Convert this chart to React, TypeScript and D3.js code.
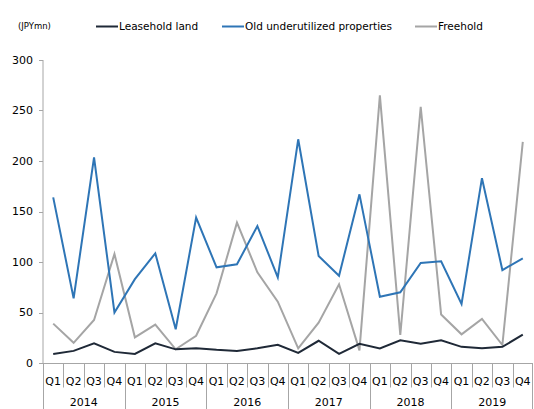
import React, { useEffect, useRef } from 'react';
import * as d3 from 'd3';

const years = ['2014', '2015', '2016', '2017', '2018', '2019'];
const quarters = ['Q1', 'Q2', 'Q3', 'Q4'];
const yTicks = [0, 50, 100, 150, 200, 250, 300];

const leasehold = [9, 12, 19.5, 11, 9, 19.5, 13.5, 14.5, 13, 12, 14.5, 18, 10, 22, 9, 19, 14.5, 22.4, 19, 22.4, 16, 14.5, 16, 28];
const oldUnderutilized = [164, 64, 203.6, 50, 83, 108.6, 33.4, 144, 94.7, 97.7, 135.6, 84.8, 221.5, 106, 86.4, 167, 65.6, 70, 99, 100.7, 58.4, 183, 92, 103.7];
const freehold = [39, 20, 42.6, 108, 25.4, 38, 13.6, 27, 69, 139, 89.8, 60.7, 14.5, 40, 78, 12.5, 265, 27.7, 253.7, 48, 28.4, 43.6, 17.8, 219];

const seriesList = [
  { name: 'Leasehold land', values: leasehold, color: '#1f2937', legendX: 96 },
  { name: 'Old underutilized properties', values: oldUnderutilized, color: '#2e75b6', legendX: 222 },
  { name: 'Freehold', values: freehold, color: '#a5a5a5', legendX: 415 },
];

const FONT = '"DejaVu Sans", Verdana, sans-serif';

const App: React.FC = () => {
  const svgRef = useRef<SVGSVGElement>(null);

  useEffect(() => {
    if (!svgRef.current) return;
    const width = 534;
    const height = 409;
    const margin = { top: 60, right: 1, bottom: 46, left: 43 };

    const svg = d3.select(svgRef.current);
    svg.selectAll('*').remove();

    const keys = years.flatMap(y => quarters.map(q => `${y}-${q}`));
    const x = d3.scaleBand<string>().domain(keys).range([margin.left, width - margin.right]);
    const y = d3.scaleLinear().domain([0, 300]).range([height - margin.bottom, margin.top]);
    const axisColor = '#a6a6a6';

    // y axis
    svg.append('line')
      .attr('x1', margin.left).attr('x2', margin.left)
      .attr('y1', y(300)).attr('y2', y(0))
      .attr('stroke', axisColor).attr('stroke-width', 1);
    yTicks.forEach(t => {
      svg.append('line')
        .attr('x1', margin.left - 4).attr('x2', margin.left)
        .attr('y1', Math.round(y(t)) + 0.5).attr('y2', Math.round(y(t)) + 0.5)
        .attr('stroke', axisColor);
      svg.append('text')
        .attr('x', 33).attr('y', y(t)).attr('dy', '0.35em')
        .attr('text-anchor', 'end')
        .style('font-family', FONT).style('font-size', '11px').attr('fill', '#000')
        .text(t);
    });

    // x axis
    const y0 = Math.round(y(0)) + 0.5;
    svg.append('line')
      .attr('x1', margin.left).attr('x2', width - margin.right)
      .attr('y1', y0).attr('y2', y0)
      .attr('stroke', axisColor);
    keys.forEach((k, i) => {
      const bx = x(k)!;
      const isYear = i % 4 === 0;
      svg.append('line')
        .attr('x1', Math.round(bx) + 0.5).attr('x2', Math.round(bx) + 0.5)
        .attr('y1', y0).attr('y2', isYear ? height : y0 + 24)
        .attr('stroke', axisColor);
      svg.append('text')
        .attr('x', bx + x.bandwidth() / 2).attr('y', y0 + 21)
        .attr('text-anchor', 'middle')
        .style('font-family', FONT).style('font-size', '11px')
        .text(k.split('-')[1]);
    });
    svg.append('line')
      .attr('x1', width - margin.right - 0.5).attr('x2', width - margin.right - 0.5)
      .attr('y1', y0).attr('y2', height)
      .attr('stroke', axisColor);
    years.forEach(yr => {
      const start = x(`${yr}-Q1`)!;
      svg.append('text')
        .attr('x', start + x.bandwidth() * 2).attr('y', y0 + 42)
        .attr('text-anchor', 'middle')
        .style('font-family', FONT).style('font-size', '11px')
        .text(yr);
    });

    // lines
    const line = d3.line<number>()
      .x((_, i) => x(keys[i])! + x.bandwidth() / 2)
      .y(d => y(d));
    [seriesList[2], seriesList[1], seriesList[0]].forEach(s => {
      svg.append('path')
        .datum(s.values)
        .attr('fill', 'none')
        .attr('stroke', s.color)
        .attr('stroke-width', 2)
        .attr('stroke-linejoin', 'miter')
        .attr('d', line);
    });

    // legend
    svg.append('text')
      .attr('x', 18).attr('y', 29)
      .style('font-family', FONT).style('font-size', '8.5px')
      .text('(JPYmn)');
    seriesList.forEach(s => {
      svg.append('line')
        .attr('x1', s.legendX).attr('x2', s.legendX + 22)
        .attr('y1', 26.5).attr('y2', 26.5)
        .attr('stroke', s.color).attr('stroke-width', 2);
      svg.append('text')
        .attr('x', s.legendX + 23).attr('y', 26).attr('dy', '0.35em')
        .style('font-family', FONT).style('font-size', '10.5px')
        .text(s.name);
    });
  }, []);

  return (
    <div style={{ position: 'absolute', left: 0, top: 0, background: '#fff' }}>
      <svg ref={svgRef} width={534} height={409} style={{ display: 'block' }}></svg>
    </div>
  );
};

export default App;
